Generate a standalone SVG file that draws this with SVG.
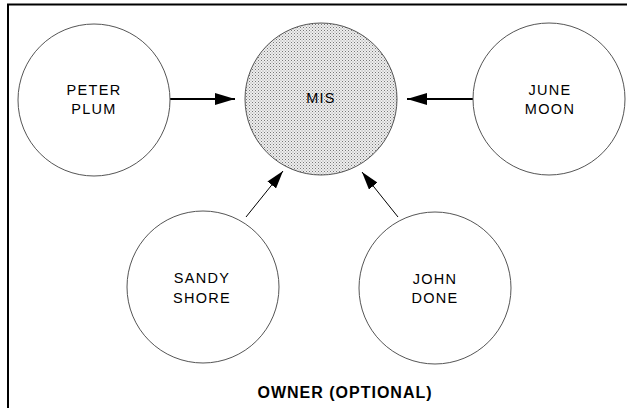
<svg xmlns="http://www.w3.org/2000/svg" width="627" height="408" viewBox="0 0 627 408">
  <style>
    .node { fill: #fff; stroke: #555; stroke-width: 1; }
    .hub { fill: url(#dots); stroke: #555; stroke-width: 1; }
    .label { font-family: "Liberation Sans", Arial, sans-serif; font-size: 14.5px; letter-spacing: 1.3px; fill: #000; text-anchor: middle; }
    .title { font-family: "Liberation Sans", Arial, sans-serif; font-size: 16px; font-weight: bold; letter-spacing: 1px; fill: #000; text-anchor: middle; }
    .link { stroke: #000; fill: none; }
  </style>
  <defs>
    <pattern id="dots" width="3" height="3" patternUnits="userSpaceOnUse">
      <rect width="3" height="3" fill="#eeeeee"/>
      <rect x="0" y="0" width="1" height="1" fill="#777"/>
      <rect x="1.5" y="1.5" width="1" height="1" fill="#999"/>
    </pattern>
    <marker id="head" viewBox="0 0 20 12" refX="20" refY="6" markerWidth="20" markerHeight="12" markerUnits="userSpaceOnUse" orient="auto">
      <path d="M0,0 L20,6 L0,12 Z" fill="#000"/>
    </marker>
    <marker id="headSmall" viewBox="0 0 18 11" refX="18" refY="5.5" markerWidth="18" markerHeight="11" markerUnits="userSpaceOnUse" orient="auto">
      <path d="M0,0 L18,5.5 L0,11 Z" fill="#000"/>
    </marker>
  </defs>

  <!-- frame: top and left edges -->
  <path d="M8,410 V4.5 H630" fill="none" stroke="#000" stroke-width="2"/>

  <g id="connectors">
    <line class="link" x1="170" y1="99" x2="235" y2="99" stroke-width="2" marker-end="url(#head)"/>
    <line class="link" x1="473" y1="99" x2="407" y2="99" stroke-width="2" marker-end="url(#head)"/>
    <line class="link" x1="246" y1="217" x2="283" y2="171" stroke-width="1" marker-end="url(#headSmall)"/>
    <line class="link" x1="398" y1="217" x2="362" y2="172" stroke-width="1" marker-end="url(#headSmall)"/>
  </g>

  <g id="mis">
    <circle class="hub" cx="321" cy="99" r="76"/>
    <text class="label" x="321" y="103">MIS</text>
  </g>

  <g id="peter-plum">
    <circle class="node" cx="94" cy="100" r="76"/>
    <text class="label" x="94" y="95">PETER</text>
    <text class="label" x="94" y="114">PLUM</text>
  </g>

  <g id="june-moon">
    <circle class="node" cx="549" cy="99" r="76"/>
    <text class="label" x="550" y="95">JUNE</text>
    <text class="label" x="550" y="114">MOON</text>
  </g>

  <g id="sandy-shore">
    <circle class="node" cx="203" cy="287" r="76"/>
    <text class="label" x="202" y="283">SANDY</text>
    <text class="label" x="202" y="303">SHORE</text>
  </g>

  <g id="john-done">
    <circle class="node" cx="435" cy="288" r="76"/>
    <text class="label" x="435" y="284">JOHN</text>
    <text class="label" x="435" y="303">DONE</text>
  </g>

  <text class="title" x="345" y="398">OWNER (OPTIONAL)</text>
</svg>
